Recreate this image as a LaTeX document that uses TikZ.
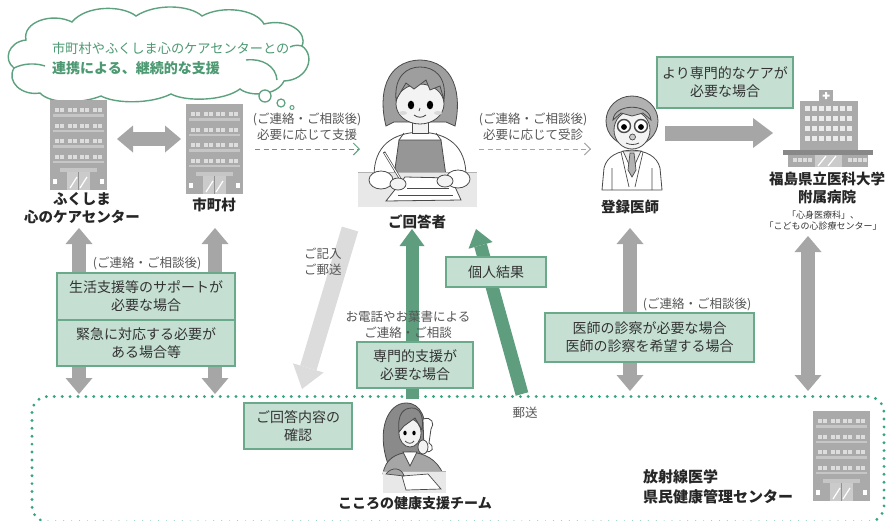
\documentclass[tikz,border=0pt]{standalone}
\usepackage{fontspec}
\setmainfont{Noto Sans CJK JP}
\usetikzlibrary{arrows.meta}

\definecolor{boxfill}{HTML}{C5E0D3}
\definecolor{boxline}{HTML}{6AA98A}
\definecolor{greenA}{HTML}{5E9E7F}
\definecolor{grayA}{HTML}{A6A6A6}
\definecolor{grayL}{HTML}{DCDCDC}
\definecolor{dotgreen}{HTML}{37A67F}
\definecolor{cloudline}{HTML}{5DA27F}
\definecolor{cloudtext}{HTML}{4C9972}
\definecolor{bldg}{HTML}{AAAAAA}
\definecolor{win}{HTML}{DDDDDD}
\definecolor{ledge}{HTML}{C6C6C6}
\definecolor{door}{HTML}{CBCBCB}
\definecolor{ink}{HTML}{4A4A4A}
\definecolor{hairg}{HTML}{9E9E9E}
\definecolor{hairdk}{HTML}{8A8A8A}
\definecolor{skin}{HTML}{F3F3F3}
\definecolor{desk}{HTML}{E8E8E8}
\definecolor{notetext}{HTML}{555555}

\tikzset{
  lbl/.style={font=\fontsize{14.5}{17.5}\selectfont\bfseries, text=black!85, align=center, inner sep=0pt},
  note/.style={font=\fontsize{12.5}{16}\selectfont, text=notetext, align=center, inner sep=0pt},
  tinytxt/.style={font=\fontsize{9}{11}\selectfont, text=black!80, align=center, inner sep=0pt},
  gbox/.style={draw=boxline, fill=boxfill, line width=1.3pt, font=\fontsize{14}{18}\selectfont, text=black!80, align=center, inner sep=0pt},
  fatgray/.style={draw=grayA, line width=14pt, >={Triangle[width=27pt,length=16pt,line width=0pt]}},
  bigright/.style={draw=grayA, line width=15pt, -{Triangle[width=30pt,length=20pt,line width=0pt]}},
  fatlight/.style={draw=grayL, line width=17pt, -{Triangle[width=32pt,length=22pt,line width=0pt]}},
  fatgreen/.style={draw=greenA, line width=13pt, -{Triangle[width=25pt,length=17pt,line width=0pt]}},
  dashgo/.style={line width=1pt, dash pattern=on 5pt off 3.5pt, -{Straight Barb[length=6pt,width=12pt]}},
  dotline/.style={draw=dotgreen, line width=3.2pt, dash pattern=on 0pt off 7.9pt, line cap=round},
  office/.pic={
    \fill[bldg] (0,0) rectangle (57,90);
    \foreach \r in {0,1,2,3}{
      \foreach \c in {0,1,2,3}{
        \fill[win] ({5+\c*12.5},{8+\r*15.5}) rectangle +(4,4);
        \fill[win] ({10+\c*12.5},{8+\r*15.5}) rectangle +(4,4);
      }
      \fill[ledge] (3,{14+\r*15.5}) rectangle (54,{16.5+\r*15.5});
    }
    \fill[ledge] (10,68) rectangle (47,71.5);
    \fill[door] (17,72) rectangle (40,90);
    \draw[bldg!85!black, line width=0.8pt] (28.5,72) -- (28.5,90);
    \draw[white, line width=1.2pt] (20,88) -- (27,77) (30,88) -- (37,77);
    \fill[white] (3,79) rectangle (7,84);
    \fill[white] (50,79) rectangle (54,84);
  }
}

\begin{document}
\begin{tikzpicture}[x=1pt,y=-1pt]
\useasboundingbox (0,0) rectangle (886,520);
\clip (0,0) rectangle (886,520);

% ---------- thought cloud ----------
\filldraw[fill=white, draw=cloudline, line width=1.4pt]
  (14,68) .. controls (3,60) and (8,42) .. (26,40)
  .. controls (22,22) and (52,12) .. (72,22)
  .. controls (86,5) and (122,5) .. (136,16)
  .. controls (156,3) and (190,5) .. (202,16)
  .. controls (222,5) and (256,9) .. (264,24)
  .. controls (288,18) and (308,32) .. (302,46)
  .. controls (316,56) and (308,80) .. (284,81)
  .. controls (277,96) and (250,97) .. (240,89)
  .. controls (224,101) and (186,102) .. (171,94)
  .. controls (151,104) and (116,104) .. (101,96)
  .. controls (81,104) and (50,104) .. (40,93)
  .. controls (22,96) and (6,82) .. (14,68) -- cycle;
\draw[cloudline, line width=1.4pt] (14,68) .. controls (24,63) and (36,63) .. (45,66);
\draw[cloudline, line width=1.4pt] (246,60) .. controls (262,58) and (276,66) .. (277,80);
\draw[cloudline, line width=1.4pt] (290,47) .. controls (294,45) and (298,45) .. (302,46);
\node[anchor=west, inner sep=0pt, font=\fontsize{13.2}{15}\selectfont, text=cloudtext] (cloudA) at (52,48) {市町村やふくしま心のケアセンターとの};
\node[anchor=west, inner sep=0pt, font=\fontsize{14}{16}\selectfont\bfseries, text=cloudtext] (cloudB) at (52,68) {連携による、継続的な支援};
\draw[cloudline, line width=1.3pt, fill=white] (265,96) circle (6);
\draw[cloudline, line width=1.2pt, fill=white] (281,103) circle (4);
\draw[cloudline, line width=1pt, fill=white] (292,107.5) circle (2);

% ---------- office buildings ----------
\pic at (50,100) {office};
\pic at (186,104) {office};
\pic at (813,411) {office};
\node[lbl] (kokoro) at (82,208) {ふくしま\\心のケアセンター};
\node[lbl] (city) at (214,205) {市町村};

% ---------- hospital ----------
\fill[bldg] (819,90) rectangle (833,101);
\fill[white] (825,92) rectangle (827,99) (822.5,94.5) rectangle (829.5,96.5);
\fill[bldg] (800,101) rectangle (858,151);
\foreach \r in {0,1,2,3}{
  \foreach \c in {0,...,6}{
    \fill[white!92!black] ({805+\c*7},{106+\r*10}) rectangle +(5,4.5);
  }
}
\fill[bldg!80!black] (783,150) rectangle (873,155);
\fill[bldg] (788,155) rectangle (868,167);
\foreach \c in {0,...,3}{
  \fill[win] ({793+\c*5},158) rectangle +(3.5,3.5);
  \fill[win] ({848+\c*5},158) rectangle +(3.5,3.5);
}
\fill[door] (815,155) rectangle (842,167);
\draw[white, line width=1.2pt] (818,166) -- (826,156) (828,166) -- (836,156);
\node[lbl] (hosp) at (827,188) {福島県立医科大学\\附属病院};
\node[tinytxt] (hospdep) at (823,221) {「心身医療科」、\\「こどもの心診療センター」};

% ---------- respondent at desk ----------
\filldraw[fill=hairg, draw=ink, line width=0.8pt] (386,126) .. controls (378,95) and (385,61) .. (420,60) .. controls (455,61) and (462,95) .. (455,126) -- (446,122) -- (394,122) -- cycle;
\filldraw[fill=white, draw=ink, line width=0.8pt] (374,176) .. controls (374,146) and (392,133) .. (420,132) .. controls (448,133) and (466,146) .. (466,176) -- cycle;
\filldraw[fill=hairg!95!black, draw=ink, line width=0.8pt] (399,140) -- (441,140) -- (446,176) -- (394,176) -- cycle;
\draw[ink, line width=0.8pt] (399,140) -- (404,133) (441,140) -- (436,133);
\filldraw[fill=skin, draw=ink, line width=0.8pt] (412,118) rectangle (428,133);
\filldraw[fill=skin, draw=ink, line width=0.8pt] (420,104) ellipse (24 and 20);
\filldraw[fill=hairg, draw=ink, line width=0.8pt] (396,100) .. controls (394,76) and (407,67) .. (420,67) .. controls (434,67) and (447,76) .. (444,100) -- (440,86) -- (430,90) -- (426,80) -- (414,89) -- (406,83) -- cycle;
\fill[black] (411,105) ellipse (3.2 and 4.3);
\fill[black] (430,105) ellipse (3.2 and 4.3);
\fill[gray!30] (403,113) ellipse (4 and 2);
\fill[gray!30] (438,113) ellipse (4 and 2);
\draw[ink, line width=0.8pt] (420,108) -- (419,111);
\draw[ink, line width=0.9pt] (414,115) .. controls (418,118) and (422,118) .. (426,115);
\fill[desk] (358,172) rectangle (477,207);
\draw[gray!60, line width=0.6pt] (358,172) -- (477,172);
\filldraw[fill=white, draw=ink, line width=0.8pt] (405,177) -- (451,178) -- (461,200) -- (386,201) -- cycle;
\draw[ink, line width=0.9pt] (407,188) -- (449,188) (398,195) -- (453,195);
\filldraw[fill=white, draw=ink, line width=0.8pt] (381,180) ellipse (12 and 9);
\filldraw[fill=white, draw=ink, line width=0.8pt] (458,179) ellipse (12 and 9);
\draw[ink, line width=2.4pt] (384,152) -- (404,185);
\draw[white, line width=1.0pt] (384.6,153) -- (403.4,184);
\filldraw[fill=skin, draw=ink, line width=0.8pt] (398,184) ellipse (8 and 6);
\filldraw[fill=skin, draw=ink, line width=0.8pt] (445,181) ellipse (8 and 6);
\coordinate (resp) at (417,140);
\node[lbl] (respL) at (417,222) {ご回答者};

% ---------- registered physician ----------
\filldraw[fill=white, draw=ink, line width=0.8pt] (602,190) -- (604,168) .. controls (607,156) and (618,151) .. (632,150) .. controls (646,151) and (657,156) .. (660,168) -- (662,190) -- cycle;
\filldraw[fill=gray!15, draw=ink, line width=0.7pt] (623,151) -- (632,171) -- (641,151) -- cycle;
\filldraw[fill=gray!60, draw=ink, line width=0.7pt] (630,153) -- (634,153) -- (636,170) -- (632,177) -- (628,170) -- cycle;
\draw[ink, line width=0.7pt] (621,152) -- (629,187) (643,152) -- (635,187) (612,168) -- (612,190) (652,168) -- (652,190);
\filldraw[fill=hairg!80, draw=ink, line width=0.8pt] (632,121) ellipse (26 and 25);
\filldraw[fill=skin, draw=ink, line width=0.8pt] (632,130) ellipse (18 and 19);
\filldraw[fill=hairg!80, draw=ink, line width=0.8pt] (613,120) .. controls (614,103) and (650,103) .. (651,120) -- (643,113) -- (632,116) -- (621,113) -- cycle;
\draw[ink, line width=1.4pt, fill=white] (624,126) circle (6.5);
\draw[ink, line width=1.4pt, fill=white] (641,126) circle (6.5);
\fill[black] (624,127) circle (2.9);
\fill[black] (641,127) circle (2.9);
\filldraw[fill=gray!40, draw=ink, line width=0.7pt] (632.5,137) circle (3);
\draw[ink, line width=0.8pt] (626,143) .. controls (630,145) and (635,145) .. (639,143);
\coordinate (doc) at (632,140);
\node[lbl] (docL) at (630,207) {登録医師};

% ---------- health support team operator ----------
\filldraw[fill=hairdk, draw=ink, line width=0.8pt] (388,464) .. controls (376,430) and (388,403) .. (406,403) .. controls (421,403) and (427,418) .. (425,440) -- (420,462) -- cycle;
\filldraw[fill=grayA, draw=ink, line width=0.8pt] (383,474) .. controls (385,459) and (396,453) .. (410,452) .. controls (424,453) and (437,459) .. (443,474) -- cycle;
\filldraw[fill=white, draw=ink, line width=0.7pt] (403,452) -- (410,466) -- (417,452) -- cycle;
\filldraw[fill=skin, draw=ink, line width=0.8pt] (410,433) ellipse (11 and 14);
\filldraw[fill=hairdk, draw=ink, line width=0.8pt] (399,432) .. controls (397,413) and (404,408) .. (412,408) .. controls (420,408) and (424,416) .. (422,430) -- (415,418) -- (404,426) -- cycle;
\fill[black] (405,433) ellipse (1.7 and 2.3);
\fill[black] (414,433) ellipse (1.7 and 2.3);
\draw[ink, line width=0.8pt] (405,441) .. controls (408,444) and (412,444) .. (414,441);
\filldraw[fill=white, draw=ink, line width=0.8pt] (423,419) .. controls (432,416) and (435,424) .. (431,429) -- (429,443) .. controls (435,447) and (433,454) .. (424,451) -- cycle;
\filldraw[fill=skin, draw=ink, line width=0.8pt] (423,447) ellipse (5 and 7);
\fill[desk] (383,471) rectangle (446,493);
\draw[gray!60, line width=0.6pt] (383,471) -- (446,471);
\filldraw[fill=white, draw=ink, line width=0.7pt] (402,476) -- (428,474) -- (441,489) -- (406,490) -- cycle;
\filldraw[fill=grayA, draw=ink, line width=0.7pt] (386,474) .. controls (392,466) and (402,468) .. (404,476) -- cycle;
\coordinate (team) at (412,440);
\node[lbl, font=\fontsize{14}{16}\selectfont\bfseries] (teamL) at (415,503) {こころの健康支援チーム};

% ---------- management center area ----------
\draw[dotline, rounded corners=16pt] (32,396.5) rectangle (884,522);
\node[lbl, align=left, anchor=west, font=\fontsize{15}{20}\selectfont\bfseries] (center) at (643,487) {放射線医学\\県民健康管理センター};

% ---------- arrow end points ----------
\coordinate (kcT) at (79,228);   \coordinate (kcB) at (79,394);
\coordinate (ctT) at (215,228);  \coordinate (ctB) at (215,394);
\coordinate (dcT) at (630,228);  \coordinate (dcB) at (630,391);
\coordinate (hpT) at (808,236);  \coordinate (hpB) at (808,391);
\coordinate (kcR) at (117,139);  \coordinate (ctL) at (181,139);
\coordinate (docR) at (665,133); \coordinate (hospL) at (773,133);
\coordinate (mailS) at (350,229); \coordinate (mailE) at (302,389);
\coordinate (telS) at (412,399); \coordinate (telE) at (412,229);
\coordinate (resS) at (522,394); \coordinate (resE) at (476,229);
\coordinate (supS) at (255,149); \coordinate (supE) at (360,149);
\coordinate (visS) at (479,149); \coordinate (visE) at (591,149);

% ---------- arrows ----------
\draw[fatgray, <->] (kcR) -- (ctL);
\draw[fatgray, <->] (kcT) -- (kcB);
\draw[fatgray, <->] (ctT) -- (ctB);
\draw[fatgray, <->] (dcT) -- (dcB);
\draw[fatgray, <->] (hpT) -- (hpB);
\draw[bigright] (docR) -- (hospL);
\draw[fatlight] (mailS) -- (mailE);
\draw[fatgreen] (telS) -- (telE);
\draw[fatgreen] (resS) -- (resE);
\draw[dashgo, draw=greenA] (supS) -- (supE);
\draw[dashgo, draw=grayA] (visS) -- (visE);

% ---------- notes ----------
\node[note] (supN) at (307,127) {(ご連絡・ご相談後)\\必要に応じて支援};
\node[note] (visN) at (533,127) {(ご連絡・ご相談後)\\必要に応じて受診};
\node[note] (leftN) at (147,263) {(ご連絡・ご相談後)};
\node[note] (rightN) at (697,304) {(ご連絡・ご相談後)};
\node[note, align=left, anchor=west] (mailN) at (304,262) {ご記入\\ご郵送};
\node[note] (telN) at (408,325) {お電話やお葉書による\\ご連絡・ご相談};
\node[note] (postN) at (525,413) {郵送};

% ---------- condition boxes ----------
\node[gbox, minimum width=136pt, minimum height=51pt] (care) at (725,82.5) {より専門的なケアが\\必要な場合};
\node[gbox, minimum width=178pt, minimum height=47pt] (life) at (146,296.5) {生活支援等のサポートが\\必要な場合};
\node[gbox, minimum width=178pt, minimum height=46pt] (emerg) at (146,343) {緊急に対応する必要が\\ある場合等};
\node[gbox, minimum width=116pt, minimum height=46pt] (special) at (415,365) {専門的支援が\\必要な場合};
\node[gbox, minimum width=100pt, minimum height=30pt] (result) at (496,272) {個人結果};
\node[gbox, minimum width=209pt, minimum height=49pt] (exam) at (649.5,337.5) {医師の診察が必要な場合\\医師の診察を希望する場合};
\node[gbox, minimum width=108pt, minimum height=46pt] (confirm) at (298,426) {ご回答内容の\\確認};
\end{tikzpicture}
\end{document}
